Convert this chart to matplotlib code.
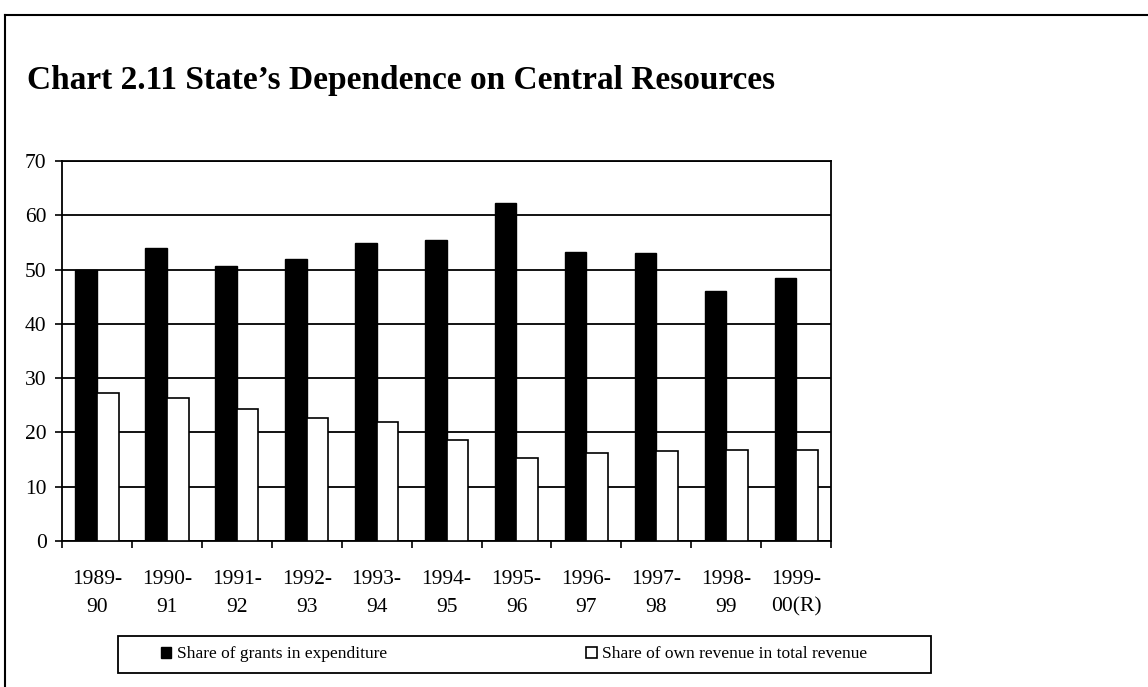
import numpy as np
import matplotlib
matplotlib.use("Agg")
import matplotlib.pyplot as plt
from matplotlib.patches import Rectangle
from matplotlib.lines import Line2D

plt.rcParams['font.family'] = ['Liberation Serif', 'DejaVu Serif']

# data
years = ["1989-\n90", "1990-\n91", "1991-\n92", "1992-\n93", "1993-\n94", "1994-\n95",
         "1995-\n96", "1996-\n97", "1997-\n98", "1998-\n99", "1999-\n00(R)"]
grants = [49.9, 54.0, 50.6, 52.0, 55.0, 55.4, 62.2, 53.3, 53.1, 46.1, 48.4]
own_rev = [27.2, 26.4, 24.4, 22.7, 21.9, 18.7, 15.3, 16.3, 16.6, 16.8, 16.8]

fig = plt.figure(figsize=(11.48, 6.87), dpi=100)
ax = fig.add_axes([0.054, 0.2125, 0.67, 0.553])

x = np.arange(len(years))
w = 0.31
ax.bar(x - w / 2, grants, w, color='black', edgecolor='black', linewidth=1,
       label='Share of grants in expenditure', zorder=3)
ax.bar(x + w / 2, own_rev, w, color='white', edgecolor='black', linewidth=1.2,
       label='Share of own revenue in total revenue', zorder=3)

ax.set_xlim(-0.5, len(years) - 0.5)
ax.set_ylim(0, 70)
ax.set_yticks(range(0, 71, 10))
ax.yaxis.grid(True, color='black', linewidth=1.3, zorder=0)
ax.set_axisbelow(True)

ax.set_xticks(x)
ax.set_xticklabels(years, fontsize=15.5, linespacing=1.6)
ax.set_xticks(np.arange(-0.5, len(years), 1), minor=True)
ax.tick_params(axis='x', which='major', length=0, pad=21)
ax.tick_params(axis='x', which='minor', length=5, width=1.2, direction='out')
ax.tick_params(axis='y', length=5, width=1.2, direction='out', pad=6, labelsize=15.5)

for s in ax.spines.values():
    s.set_linewidth(1.3)
    s.set_color('black')

fig.text(27 / 1148, 1 - 80 / 687, "Chart 2.11 State\u2019s Dependence on Central Resources",
         fontsize=24, fontweight='bold', va='center', ha='left')

# outer frame (top and left edges)
fig.add_artist(Line2D([5 / 1148, 1.0], [1 - 15 / 687, 1 - 15 / 687],
                      transform=fig.transFigure, color='black', linewidth=1.5))
fig.add_artist(Line2D([5 / 1148, 5 / 1148], [0.0, 1 - 15 / 687],
                      transform=fig.transFigure, color='black', linewidth=1.5))

# legend box
fig.add_artist(Rectangle((118 / 1148, 1 - 673 / 687), (931 - 118) / 1148, 37 / 687,
                         transform=fig.transFigure, fill=False, edgecolor='black', linewidth=1.3))
fig.legend(loc='center', bbox_to_anchor=(514 / 1148, 1 - 654.5 / 687), ncol=2, frameon=False,
           fontsize=12.5, handlelength=0.6, handleheight=0.6, handletextpad=0.3,
           columnspacing=11.5)

fig.savefig("out.png", dpi=100)
